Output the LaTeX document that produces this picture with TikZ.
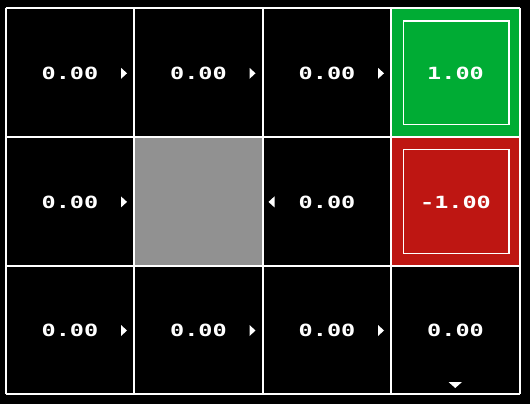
\documentclass[tikz,border=0pt]{standalone}
\usepackage{fontspec}
\usepackage{graphicx}
\newfontfamily\gridfont{DejaVu Sans Mono}
\definecolor{goalgreen}{RGB}{0,172,52}
\definecolor{pitred}{RGB}{190,22,18}
\definecolor{wallgray}{RGB}{145,145,145}
\newcommand\vt[1]{\scalebox{1.4}[1]{#1}}
\tikzset{
  val/.style={text=white, inner sep=0pt, font=\gridfont\bfseries\fontsize{16.8}{17}\selectfont},
  gridline/.style={draw=white, line width=2pt},
  innerbox/.style={draw=white, line width=1.2pt},
  arrowtri/.style={fill=white, draw=none}
}
\begin{document}
\begin{tikzpicture}[x=1pt,y=-1pt]
\useasboundingbox (0,0) rectangle (530,404);
\fill[black] (0,0) rectangle (530,404);
% special cells
\fill[goalgreen] (392,8.5) rectangle (520.5,137.1);
\fill[pitred] (392,137.1) rectangle (520.5,265.7);
\fill[wallgray] (134,137.1) rectangle (262.5,265.7);
\draw[innerbox] (403.5,21) rectangle (509,124.6);
\draw[innerbox] (403.5,149.6) rectangle (509,253.2);
% grid
\foreach \x in {5.5,134,262.5,391,519.5} \draw[gridline] (\x,8.5) -- (\x,394.3);
\foreach \y in {8.5,137.1,265.7,394.3} \draw[gridline] (5.5,\y) -- (519.5,\y);
% values
\node[val] (v00) at (70,73.3) {\vt{0.00}};
\node[val] (v01) at (198.5,73.3) {\vt{0.00}};
\node[val] (v02) at (327,73.3) {\vt{0.00}};
\node[val] (v03) at (455.5,73.3) {\vt{1.00}};
\node[val] (v10) at (70,201.9) {\vt{0.00}};
\node[val] (v12) at (327,201.9) {\vt{0.00}};
\node[val] (v13) at (455.5,201.9) {\vt{-1.00}};
\node[val] (v20) at (70,330.5) {\vt{0.00}};
\node[val] (v21) at (198.5,330.5) {\vt{0.00}};
\node[val] (v22) at (327,330.5) {\vt{0.00}};
\node[val] (v23) at (455.5,330.5) {\vt{0.00}};
% policy arrows
\foreach \xr/\yc in {134/73.3,262.5/73.3,391/73.3,134/201.9,134/330.5,262.5/330.5,391/330.5}
  \fill[arrowtri] (\xr-7,\yc) -- (\xr-13,\yc-5.5) -- (\xr-13,\yc+5.5) -- cycle;
\fill[arrowtri] (268.5,201.9) -- (274.5,196.4) -- (274.5,207.4) -- cycle;
\fill[arrowtri] (455.25,388) -- (448.5,382) -- (462,382) -- cycle;
\end{tikzpicture}
\end{document}
